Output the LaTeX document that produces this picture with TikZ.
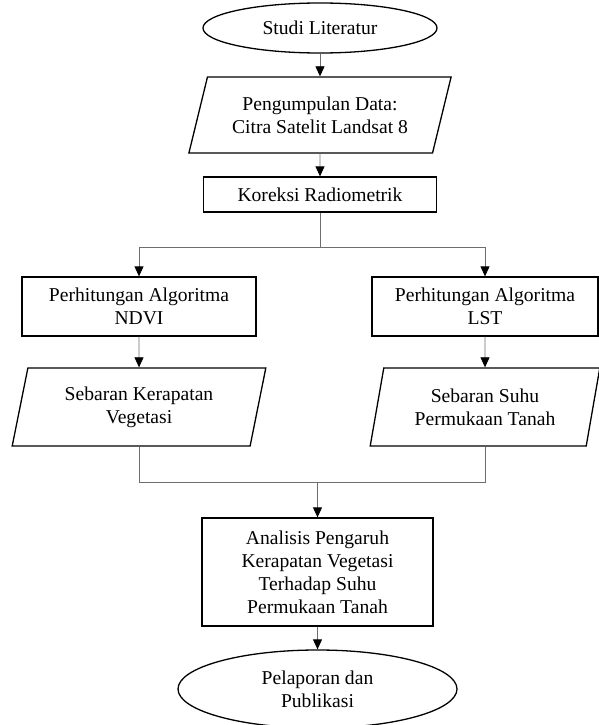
\documentclass[tikz,border=0pt]{standalone}
\usepackage{fontspec}
\setmainfont{Liberation Serif}
\usetikzlibrary{shapes.geometric,arrows.meta}
\definecolor{linegray}{RGB}{110,110,110}

\begin{document}
\begin{tikzpicture}[x=1pt, y=-1pt,
  font=\fontsize{19.6}{23}\selectfont,
  proses/.style={draw, line width=1.3pt, rectangle, align=center, inner sep=0pt},
  terminal/.style={draw, line width=1.3pt, ellipse, align=center, inner sep=0pt},
  dataio/.style={draw, line width=1.3pt, trapezium, trapezium stretches=true, align=center, inner sep=0pt},
  garis/.style={draw=linegray, line width=0.8pt},
  panah/.style={garis, -{Triangle[length=10pt, width=9pt, color=black]}}]
\useasboundingbox (0,0) rectangle (599,725);

%Studi Literatur dan data
\node[terminal, minimum width=234pt, minimum height=50pt] (lit) at (320,28) {Studi Literatur};
\node[dataio, minimum width=263pt, minimum height=76pt,
  trapezium left angle=68.5, trapezium right angle=111.5] (data) at (320,115)
  {Pengumpulan Data:\\Citra Satelit Landsat 8};
\node[proses, minimum width=233pt, minimum height=35pt] (koreksi) at (320,194.5) {Koreksi Radiometrik};

%NDVI dan LST
\node[proses, minimum width=234pt, minimum height=59pt] (ndvi) at (139,306.5) {Perhitungan Algoritma\\NDVI};
\node[proses, minimum width=226pt, minimum height=59pt] (lst) at (485,306.5) {Perhitungan Algoritma\\LST};
\node[dataio, minimum width=254pt, minimum height=78pt,
  trapezium left angle=75.6, trapezium right angle=104.4] (veg) at (139,407)
  {Sebaran Kerapatan\\Vegetasi};
\node[dataio, minimum width=230pt, minimum height=78pt,
  trapezium left angle=75.6, trapezium right angle=104.4] (suhu) at (485,407)
  {Sebaran Suhu\\Permukaan Tanah};

%Analisis dan pelaporan
\node[proses, minimum width=231pt, minimum height=108pt] (analisis) at (317.5,572)
  {Analisis Pengaruh\\Kerapatan Vegetasi\\Terhadap Suhu\\Permukaan Tanah};
\node[terminal, minimum width=279pt, minimum height=78pt] (pub) at (317.5,689) {Pelaporan dan\\Publikasi};

%garis
\coordinate (cabang) at (320,247);
\coordinate (gabung) at (317.5,482);
\draw[panah] (lit) -- (data);
\draw[panah] (data) -- (koreksi);
\draw[garis] (koreksi) -- (cabang);
\draw[panah] (cabang) -| (ndvi);
\draw[panah] (cabang) -| (lst);
\draw[panah] (ndvi) -- (veg);
\draw[panah] (lst) -- (suhu);
\draw[garis] (veg) |- (gabung);
\draw[garis] (suhu) |- (gabung);
\draw[panah] (gabung) -- (analisis);
\draw[panah] (analisis) -- (pub);
\end{tikzpicture}
\end{document}
